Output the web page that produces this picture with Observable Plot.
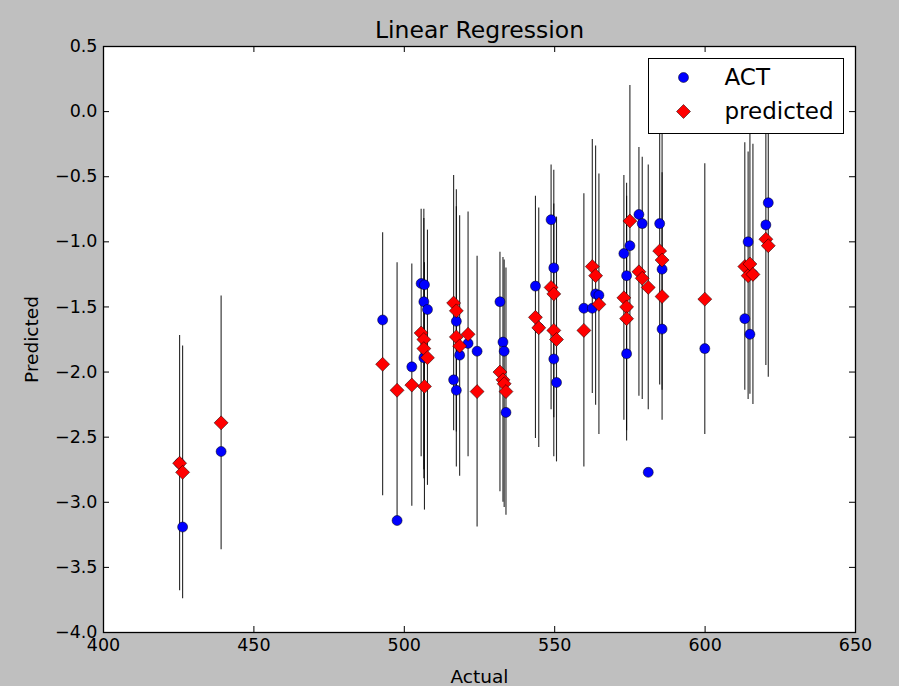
<!DOCTYPE html>
<html><head><meta charset="utf-8">
<script src="https://cdn.jsdelivr.net/npm/d3@7"></script>
<script src="https://cdn.jsdelivr.net/npm/@observablehq/plot@0.6"></script>
<style>
html,body{margin:0;padding:0;background:#bfbfbf;}
#wrap{width:899px;height:686px;}
</style></head><body><div id="wrap"></div>
<script>
const actual = [425.3, 426.3, 439.1, 492.8, 497.6, 502.5, 505.6, 506.5, 506.5, 506.7, 507.7, 516.4, 517.3, 517.3, 518.4, 521.2, 524.2, 531.8, 532.8, 533.2, 533.8, 543.6, 544.7, 548.8, 549.7, 549.7, 550.6, 559.7, 562.5, 563.6, 564.7, 573.0, 573.9, 573.9, 575.0, 578.0, 579.1, 581.1, 584.9, 585.7, 585.7, 599.9, 613.2, 614.3, 614.9, 615.9, 620.2, 621.0];
const act = [-2.70, -3.19, -2.61, -1.60, -3.14, -1.96, -1.32, -1.46, -1.89, -1.33, -1.52, -2.06, -1.61, -2.14, -1.87, -1.78, -1.84, -1.46, -1.77, -1.84, -2.31, -1.34, -1.66, -0.83, -1.20, -1.90, -2.08, -1.51, -1.51, -1.40, -1.41, -1.09, -1.26, -1.86, -1.03, -0.79, -0.86, -2.77, -0.86, -1.21, -1.67, -1.82, -1.59, -1.00, -1.71, -1.25, -0.87, -0.70];
const predicted = [-2.70, -2.77, -2.39, -1.94, -2.14, -2.10, -1.70, -1.75, -1.82, -2.11, -1.89, -1.47, -1.53, -1.73, -1.80, -1.71, -2.15, -2.00, -2.06, -2.09, -2.15, -1.58, -1.66, -1.35, -1.40, -1.68, -1.75, -1.68, -1.19, -1.26, -1.48, -1.43, -1.50, -1.59, -0.84, -1.23, -1.28, -1.35, -1.07, -1.14, -1.42, -1.44, -1.19, -1.26, -1.17, -1.25, -0.98, -1.03];
const err = [0.98, 0.97, 0.975, 1.01, 0.98, 0.93, 0.95, 1.0, 1.0, 0.95, 0.98, 0.98, 0.93, 1.0, 1.0, 0.94, 1.04, 0.92, 0.94, 0.95, 0.95, 0.93, 0.92, 0.94, 0.95, 0.97, 0.94, 1.05, 0.975, 0.995, 1.0, 0.94, 0.95, 0.94, 1.04, 0.955, 0.93, 0.94, 1.03, 1.0, 0.95, 1.04, 0.95, 0.95, 1.0, 1.0, 0.97, 1.01];
const xTicks = [400, 450, 500, 550, 600, 650];
const yTicks = [-4.0, -3.5, -3.0, -2.5, -2.0, -1.5, -1.0, -0.5, 0.0, 0.5];
const title = "Linear Regression";
const xLabel = "Actual";
const yLabel = "Predicted";
const seriesNames = ["ACT", "predicted"];

const data = actual.map((a, i) => ({actual: a, act: act[i], pred: predicted[i], lo: predicted[i] - err[i], hi: predicted[i] + err[i]}));

const W = 899, H = 686, mL = 103, mR = 44, mT = 46, mB = 54;
const fw = W - mL - mR, fh = H - mT - mB;
const font = "DejaVu Sans";

const chart = Plot.plot({
  width: W, height: H,
  marginLeft: mL, marginRight: mR, marginTop: mT, marginBottom: mB,
  style: {background: "#bfbfbf", fontFamily: font, fontSize: "17px", color: "#000"},
  x: {domain: [400, 650]},
  y: {domain: [-4, 0.5]},
  marks: [
    Plot.frame({fill: "#fff"}),
    Plot.ruleX(data, {x: "actual", y1: "lo", y2: "hi", stroke: "#000", strokeOpacity: 0.85, strokeWidth: 1.1}),
    Plot.dot(data, {x: "actual", y: "act", r: 5, fill: "#0000ff", stroke: "#000", strokeWidth: 0.5}),
    Plot.dot(data, {x: "actual", y: "pred", symbol: "diamond2", r: 6.3, fill: "#ff0000", stroke: "#000", strokeWidth: 0.5}),
    // inward ticks on all four sides
    Plot.ruleX(xTicks, {x: d => d, insetTop: fh - 6, stroke: "#000"}),
    Plot.ruleX(xTicks, {x: d => d, insetBottom: fh - 6, stroke: "#000"}),
    Plot.ruleY(yTicks, {y: d => d, insetRight: fw - 6, stroke: "#000"}),
    Plot.ruleY(yTicks, {y: d => d, insetLeft: fw - 6, stroke: "#000"}),
    Plot.axisX(xTicks, {anchor: "bottom", tickSize: 0, tickPadding: 6, tickFormat: d => String(d), label: null, fontSize: 17.5}),
    Plot.axisY(yTicks, {anchor: "left", tickSize: 0, tickPadding: 6, tickFormat: d3.format(".1f"), label: null, fontSize: 17.5}),
    // legend box
    Plot.frame({insetLeft: 545, insetTop: 12, insetRight: 12, insetBottom: fh - 87, fill: "#fff", stroke: "#000", strokeWidth: 1}),
    Plot.dot([seriesNames[0]], {frameAnchor: "top-left", dx: 580, dy: 31, r: 5, fill: "#0000ff", stroke: "#000", strokeWidth: 0.5}),
    Plot.dot([seriesNames[1]], {frameAnchor: "top-left", dx: 580, dy: 65, symbol: "diamond2", r: 6.3, fill: "#ff0000", stroke: "#000", strokeWidth: 0.5}),
    Plot.text([seriesNames[0]], {frameAnchor: "top-left", dx: 621, dy: 31, text: d => d, textAnchor: "start", lineAnchor: "middle", fontSize: 23}),
    Plot.text([seriesNames[1]], {frameAnchor: "top-left", dx: 621, dy: 65, text: d => d, textAnchor: "start", lineAnchor: "middle", fontSize: 23}),
    Plot.frame({stroke: "#000", strokeWidth: 1.3}),
    // title and axis labels
    Plot.text([title], {frameAnchor: "top", dy: -16, text: d => d, textAnchor: "middle", lineAnchor: "middle", fontSize: 23.5}),
    Plot.text([xLabel], {frameAnchor: "bottom", dy: 45, text: d => d, textAnchor: "middle", lineAnchor: "middle", fontSize: 18.5}),
    Plot.text([yLabel], {frameAnchor: "left", dx: -71, rotate: -90, text: d => d, textAnchor: "middle", lineAnchor: "middle", fontSize: 18.5})
  ]
});
document.getElementById("wrap").appendChild(chart);
</script>
</body></html>
